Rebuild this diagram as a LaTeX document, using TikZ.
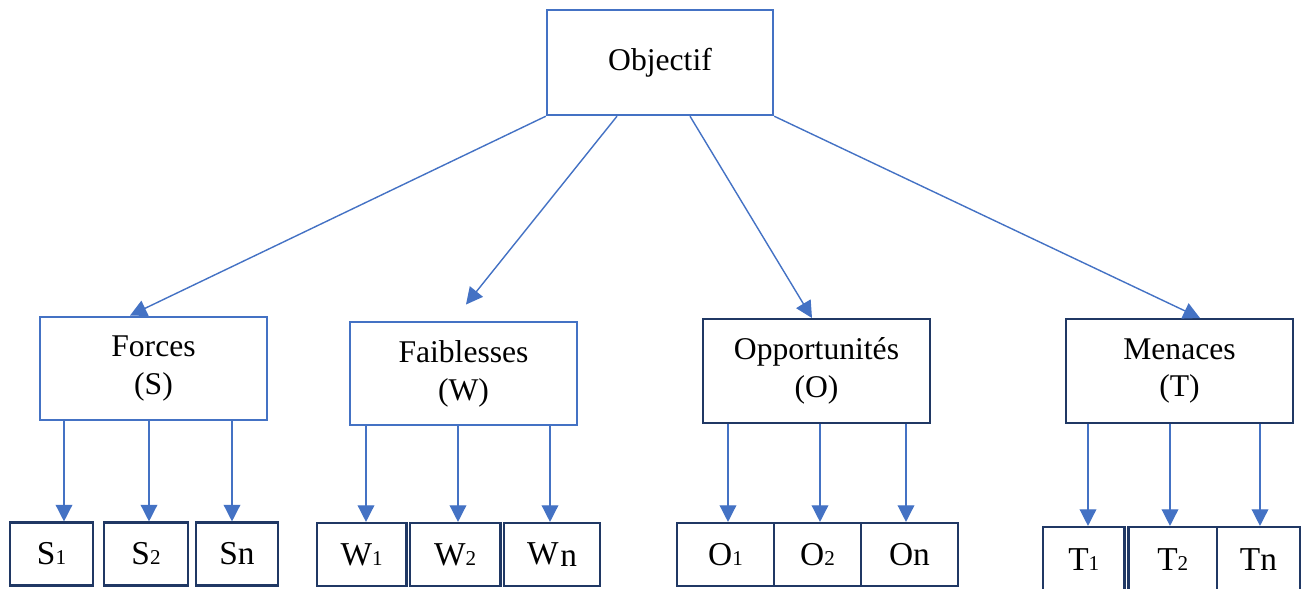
\documentclass[tikz,border=0pt]{standalone}
\usepackage{fontspec}
\setmainfont{Liberation Serif}
\usetikzlibrary{calc,arrows.meta}
\definecolor{swotblue}{HTML}{4472C4}
\definecolor{swotnavy}{HTML}{203864}
\newcommand{\idx}[1]{{\fontsize{12}{12}\selectfont #1}}

\begin{document}
\begin{tikzpicture}[x=0.02cm,y=-0.02cm,
     box/.style = {draw, rectangle, line width=1.4pt, align=center, inner sep=0pt,
      minimum width=4.54cm, minimum height=2.07cm, font=\fontsize{18}{21.6}\selectfont},
     bluebox/.style = {box, draw=swotblue},
     navybox/.style = {box, draw=swotnavy},
     cell/.style = {draw=swotnavy, rectangle, line width=1.2pt, inner sep=0pt,
      minimum width=#1*0.02cm, minimum height=1.26cm, font=\fontsize{19}{19}\selectfont},
     arrow/.style = {draw=swotblue, line width=0.8pt, -{Triangle[length=9.5pt,width=9.5pt]}}
    ]
    \useasboundingbox (0,0) rectangle (1301,588);

    \node [bluebox, minimum width=4.52cm, minimum height=2.1cm] (obj) at (660,62.5) {Objectif};
    \node [bluebox] (forces) at (153.5,368.5) {Forces\\(S)};
    \node [bluebox] (faib) at (463.5,373.5) {Faiblesses\\(W)};
    \node [navybox] (opp) at (816.5,371) {Opportunités\\(O)};
    \node [navybox] (men) at (1179.5,371) {Menaces\\(T)};

    % strengths
    \node [cell=83] (s1) at (51.5,554) {S\idx{1}};
    \node [cell=84] (s2) at (146,554) {S\idx{2}};
    \node [cell=82] (sn) at (237,554) {Sn};
    % weaknesses
    \node [cell=89.5] (w1) at (361.75,554.5) {W\idx{1}};
    \node [cell=90.5] (w2) at (455.25,554.5) {W\idx{2}};
    \node [cell=96] (wn) at (552,554.5) {W\kern1pt\raisebox{-1.5pt}{n}};
    % opportunities
    \node [cell=97] (o1) at (725.5,554.5) {O\idx{1}};
    \node [cell=87] (o2) at (817.5,554.5) {O\idx{2}};
    \node [cell=97] (on) at (909.5,554.5) {On};
    % threats
    \node [cell=81.5, minimum height=1.3cm] (t1) at (1083.75,559.5) {T\idx{1}};
    \node [cell=88.5, minimum height=1.3cm] (t2) at (1172.75,559.5) {T\idx{2}};
    \node [cell=83, minimum height=1.3cm] (tn) at (1258.5,559.5) {Tn};

    \draw[arrow] (obj.south west) -- (forces.north -| 130,0);
    \draw[arrow] (obj.south west -| 617,0) -- ($(faib.north -| 466,0)+(0,-16)$);
    \draw[arrow] (obj.south west -| 690,0) -- (opp.north -| 812,0);
    \draw[arrow] (obj.south east) -- (men.north -| 1200,0);

    \draw[arrow] (forces.south -| 64,0) -- (s1.north -| 64,0);
    \draw[arrow] (forces.south -| 149,0) -- (s2.north -| 149,0);
    \draw[arrow] (forces.south -| 232,0) -- (sn.north -| 232,0);
    \draw[arrow] (faib.south -| 366,0) -- (w1.north -| 366,0);
    \draw[arrow] (faib.south -| 458,0) -- (w2.north -| 458,0);
    \draw[arrow] (faib.south -| 550,0) -- (wn.north -| 550,0);
    \draw[arrow] (opp.south -| 728,0) -- (o1.north -| 728,0);
    \draw[arrow] (opp.south -| 820,0) -- (o2.north -| 820,0);
    \draw[arrow] (opp.south -| 906,0) -- (on.north -| 906,0);
    \draw[arrow] (men.south -| 1088,0) -- (t1.north -| 1088,0);
    \draw[arrow] (men.south -| 1170,0) -- (t2.north -| 1170,0);
    \draw[arrow] (men.south -| 1260,0) -- (tn.north -| 1260,0);

\end{tikzpicture}
\end{document}
